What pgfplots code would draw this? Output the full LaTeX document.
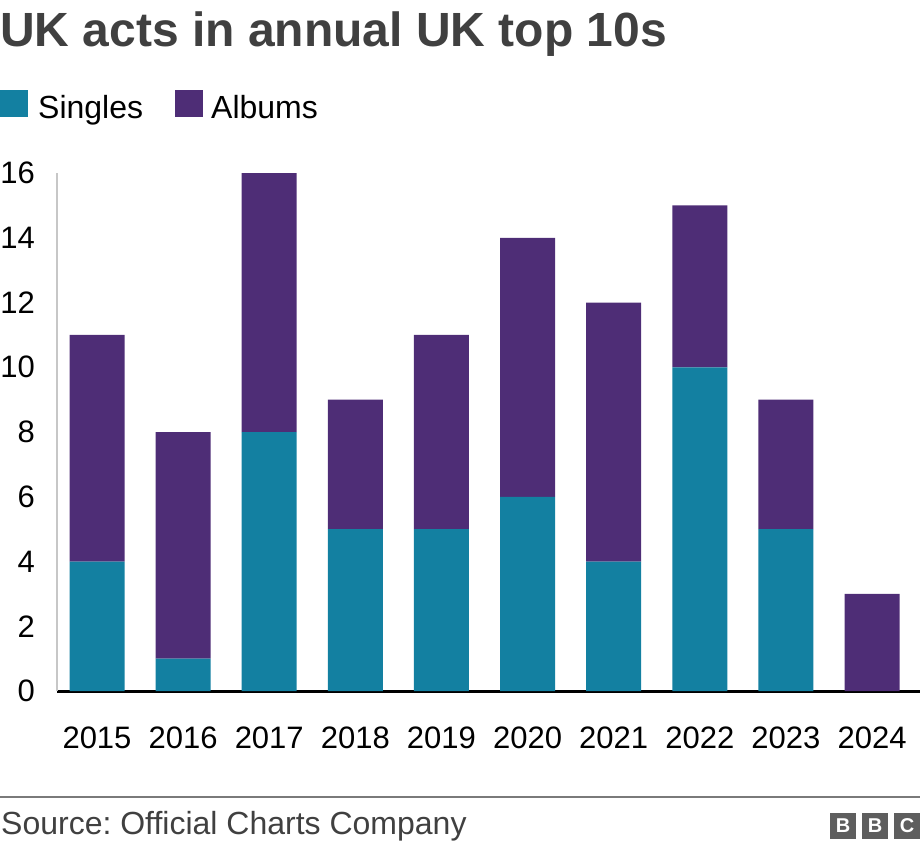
\documentclass[border=0pt]{standalone}
\usepackage{fontspec}
\setmainfont{Liberation Sans}
\usepackage{pgfplots}
\pgfplotsset{compat=1.18}
\frenchspacing
\definecolor{singles}{HTML}{1380A1}
\definecolor{albums}{HTML}{4E2D76}
\definecolor{titlegray}{HTML}{404040}
\definecolor{bbcgray}{HTML}{5E5E5E}
\begin{document}
\begin{tikzpicture}[x=1pt,y=1pt]
\useasboundingbox (0,0) rectangle (920,-852);
% title
\node[anchor=base west, inner sep=0pt, text=titlegray, font=\fontsize{48}{54}\selectfont\bfseries] at (0,-46) {UK acts in annual UK top 10s};
% legend
\fill[singles] (0,-90) rectangle (28,-117);
\node[anchor=base west, inner sep=0pt, font=\fontsize{32}{36}\selectfont] at (38,-118) {Singles};
\fill[albums] (175,-90) rectangle (203,-117);
\node[anchor=base west, inner sep=0pt, font=\fontsize{32}{36}\selectfont] at (211,-118) {Albums};
\begin{axis}[
  at={(57pt,-691pt)}, anchor=south west,
  scale only axis, width=863pt, height=518pt,
  xmin=-0.4646, xmax=9.557, ymin=0, ymax=16,
  ybar stacked, bar width=55pt,
  axis line style={draw=none},
  major tick length=0pt,
  xtick=data,
  xticklabels={2015,2016,2017,2018,2019,2020,2021,2022,2023,2024},
  ytick={0,2,...,16},
  /pgf/number format/assume math mode=true,
  tick label style={font=\fontsize{31}{36}\selectfont, text=black},
  yticklabel style={anchor=east, inner sep=0pt, xshift=-22pt},
  xticklabel style={anchor=north, inner sep=0pt, yshift=-36pt},
  clip=false,
]
\addplot[fill=singles, draw=none] coordinates {(0,4) (1,1) (2,8) (3,5) (4,5) (5,6) (6,4) (7,10) (8,5) (9,0)};
\addplot[fill=albums, draw=none] coordinates {(0,7) (1,7) (2,8) (3,4) (4,6) (5,8) (6,8) (7,5) (8,4) (9,3)};
\draw[color=black!22, line width=1.5pt] (rel axis cs:0,0) -- (rel axis cs:0,1);
\draw[black, line width=3pt] (rel axis cs:0,0) -- (rel axis cs:1,0);
\end{axis}
% footer
\draw[color=black!52, line width=2pt] (0,-797) -- (920,-797);
\node[anchor=base west, inner sep=0pt, text=titlegray, font=\fontsize{32}{36}\selectfont] at (1,-834) {Source: Official Charts Company};
\foreach \x/\l in {830/B,862/B,894/C} {
  \fill[bbcgray] (\x,-813) rectangle (\x+26,-839);
  \node[text=white, font=\fontsize{20}{24}\selectfont\bfseries, inner sep=0pt] at (\x+13,-826) {\l};
}
\end{tikzpicture}
\end{document}
